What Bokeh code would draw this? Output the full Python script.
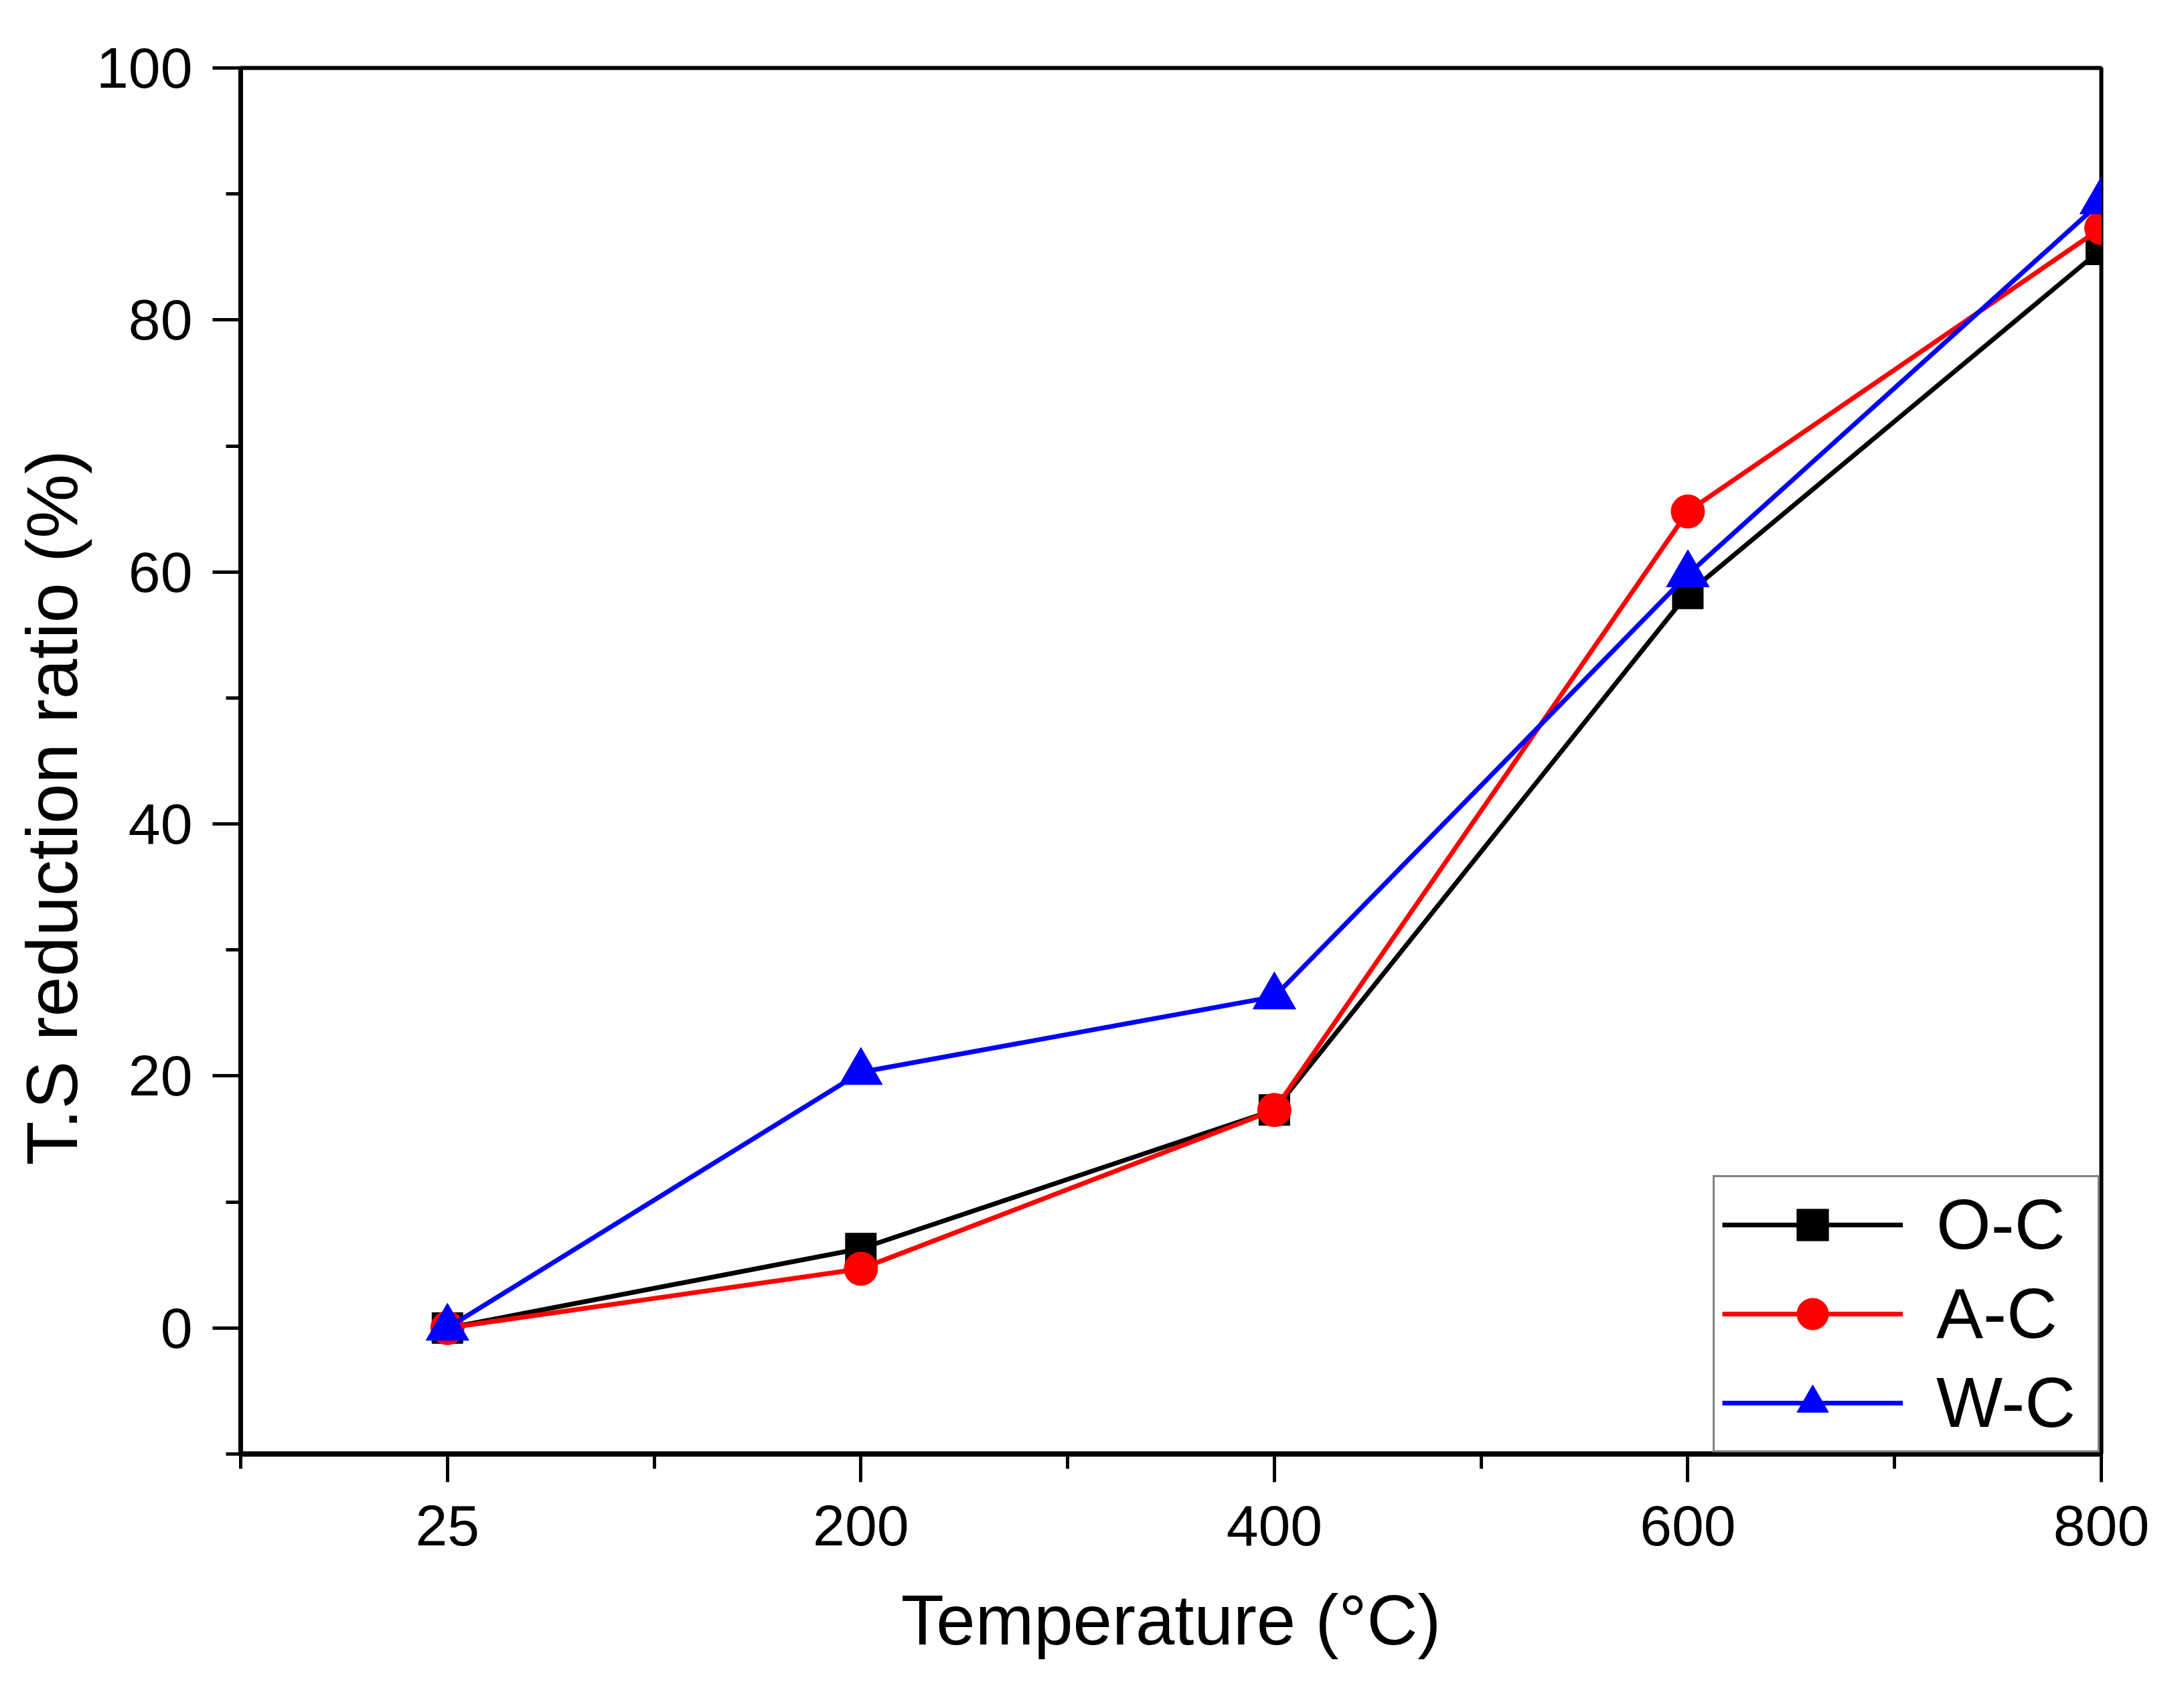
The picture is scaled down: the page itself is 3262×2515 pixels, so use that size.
from bokeh.plotting import figure
from bokeh.models import Range1d, FixedTicker, Legend, LegendItem, Title
from bokeh.embed import file_html
from bokeh.resources import INLINE

# temperatures (deg C), plotted at equal spacing
temps = ["25", "200", "400", "600", "800"]

# T.S reduction ratio (%)
oc = [0.0, 6.3, 17.3, 58.3, 85.6]
ac = [0.0, 4.7, 17.3, 64.8, 87.3]
wc = [0.0, 20.3, 26.3, 59.8, 89.4]

FONT = "Liberation Sans"

p = figure(width=3246, height=2507, output_backend="svg", toolbar_location=None,
           x_range=Range1d(-0.5, 4), y_range=Range1d(-10, 100),
           min_border_left=359, min_border_right=108, min_border_top=101, min_border_bottom=336)
p.grid.visible = False
p.background_fill_color = "white"
p.border_fill_color = "white"
p.outline_line_color = "black"
p.outline_line_width = 6

xs = list(range(len(temps)))

series = [("O-C", oc, "black", "square", 46),
          ("A-C", ac, "#FF0000", "circle", 50),
          ("W-C", wc, "#0000FF", "triangle", 64)]

items = []
for name, ys, col, mk, sz in series:
    ln = p.line(xs, ys, line_color=col, line_width=7)
    sc = p.scatter(xs, ys, marker=mk, size=sz, fill_color=col, line_color=col)
    items.append(LegendItem(label=name, renderers=[ln, sc]))

# x axis
xa = p.xaxis[0]
xa.ticker = FixedTicker(ticks=xs, minor_ticks=[-0.5, 0.5, 1.5, 2.5, 3.5])
xa.major_label_overrides = {i: t for i, t in enumerate(temps)}
xa.axis_label = "Temperature (\u00b0C)"
xa.axis_line_width = 8

# y axis
ya = p.yaxis[0]
ya.ticker = FixedTicker(ticks=[0, 20, 40, 60, 80, 100], minor_ticks=[-10, 10, 30, 50, 70, 90])
ya.axis_line_width = 7

for ax in (xa, ya):
    ax.axis_line_color = "black"
    ax.major_tick_line_color = "black"
    ax.minor_tick_line_color = "black"
    ax.major_tick_line_width = 5
    ax.minor_tick_line_width = 5
    ax.major_tick_in = 0
    ax.minor_tick_in = 0
    ax.major_tick_out = 42
    ax.minor_tick_out = 22
    ax.major_label_text_font = FONT
    ax.major_label_text_font_size = "86px"
    ax.major_label_text_color = "black"
    ax.axis_label_text_font = FONT
    ax.axis_label_text_font_size = "105px"
    ax.axis_label_text_font_style = "normal"
    ax.axis_label_text_color = "black"

xa.major_label_standoff = 35
xa.axis_label_standoff = 50
ya.major_label_standoff = 30

# y title: starts a little above the frame bottom, as in the original
ytitle = Title(text="T.S reduction ratio (%)", align="left", offset=431,
               text_font=FONT, text_font_size="108px", text_font_style="normal",
               text_color="black", standoff=8)
p.add_layout(ytitle, "left")

legend = Legend(items=items, location="bottom_right", margin=2, padding=11,
                spacing=13, glyph_width=270, glyph_height=118, label_height=100,
                label_width=230, label_standoff=50, label_text_font=FONT,
                label_text_font_size="105px", label_text_color="black",
                border_line_color="black", border_line_width=3,
                background_fill_color="white", background_fill_alpha=1.0)
p.add_layout(legend)

open("out.html", "w").write(file_html(p, INLINE))
